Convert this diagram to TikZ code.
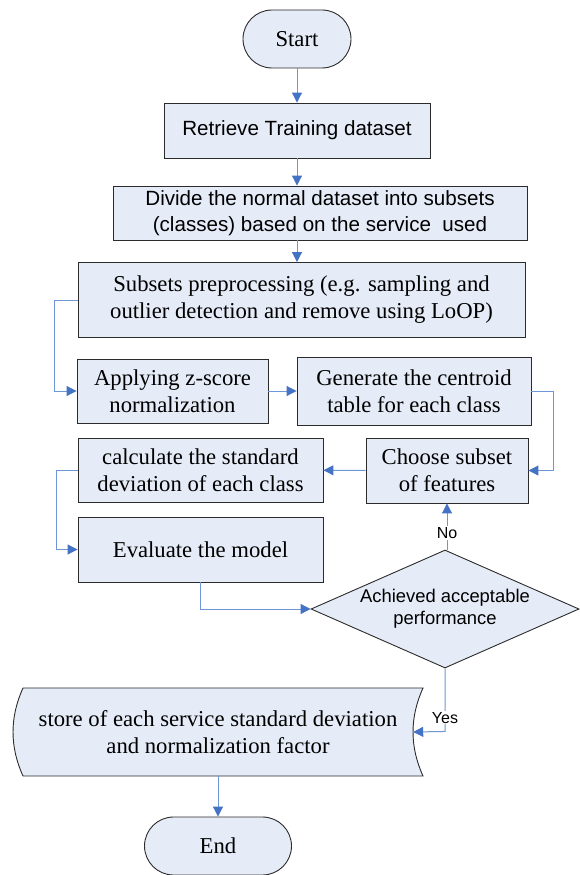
\documentclass[tikz,border=0pt]{standalone}
\usepackage{fontspec}
\setmainfont{Liberation Serif}
\newfontfamily\arialfont{Liberation Sans}
\usetikzlibrary{arrows.meta, shapes.geometric}
\definecolor{boxfill}{HTML}{E6ECF7}
\definecolor{linkblue}{HTML}{6D97D6}
\definecolor{tipblue}{HTML}{4472C4}
\definecolor{edgegray}{HTML}{2B2B2B}

\begin{document}
\begin{tikzpicture}[
    x=1pt, y=-1pt,
    box/.style={draw=edgegray, fill=boxfill, line width=0.9pt, align=center,
        inner sep=2pt, font=\fontsize{22.7}{27}\selectfont},
    sansbox/.style={box, font=\arialfont\fontsize{20.6}{26}\selectfont},
    term/.style={box, rounded corners=29pt, minimum height=58pt},
    flow/.style={draw=linkblue, line width=1pt,
        -{Triangle[length=10pt, width=10pt, color=tipblue]}},
    tag/.style={font=\arialfont\fontsize{16}{19}\selectfont, fill=white, inner sep=1pt}
]
    \useasboundingbox (0, 0) rectangle (579, 875);

    % top of the chart
    \node[term, minimum width=108pt] (start) at (297, 39) {Start};
    \node[sansbox, minimum width=266pt, minimum height=55pt] (retrieve) at (297, 130.5)
        {Retrieve Training dataset};
    \node[sansbox, minimum width=414pt, minimum height=54pt] (divide) at (320, 213)
        {Divide the normal dataset into subsets\\(classes) based on the service\ \ used};
    \node[box, minimum width=447pt, minimum height=75pt] (subsets) at (301.5, 300)
        {Subsets preprocessing (e.g. sampling and\\outlier detection and remove using LoOP)};

    % middle part
    \node[box, minimum width=191pt, minimum height=64pt] (apply) at (172.5, 391)
        {Applying z-score\\normalization};
    \node[box, minimum width=234pt, minimum height=68pt] (centroid) at (414, 391)
        {Generate the centroid\\table for each class};
    \node[box, minimum width=162pt, minimum height=65pt] (choose) at (447, 470.5)
        {Choose subset\\of features};
    \node[box, minimum width=245pt, minimum height=64pt] (stddev) at (200.5, 470)
        {calculate the standard\\deviation of each class};
    \node[box, minimum width=245pt, minimum height=65pt] (evaluate) at (200.5, 549.5)
        {Evaluate the model};
    \node[box, diamond, inner sep=0pt, aspect=2.27, minimum width=268pt, minimum height=118pt,
        font=\arialfont\fontsize{18.4}{22}\selectfont] (check) at (445, 609)
        {Achieved acceptable\\performance};

    % stored data shape and end
    \draw[draw=edgegray, fill=boxfill, line width=0.9pt]
        (23, 688) -- (423, 688)
        .. controls (409.7, 717.3) and (409.7, 746.7) .. (423, 776)
        -- (23, 776)
        .. controls (9.7, 746.7) and (9.7, 717.3) .. (23, 688) -- cycle;
    \node[align=center, inner sep=0pt, minimum width=390pt, minimum height=88pt,
        font=\fontsize{22.7}{27}\selectfont] (store) at (218, 732)
        {store of each service standard deviation\\and normalization factor};
    \node[term, minimum width=147pt] (end) at (218, 846) {End};

    % connectors
    \foreach \a/\b in {start/retrieve, retrieve/divide, divide/subsets} {
        \draw[flow] (\a.south -| start) -- (\b.north -| start);
    }
    \draw[flow] (subsets.west) -- ++(-23, 0) |- (apply.west);
    \draw[flow] (apply) -- (centroid);
    \draw[flow] (centroid.east) -- ++(22, 0) |- (choose.east);
    \draw[flow] (choose) -- (stddev);
    \draw[flow] (stddev.west) -- ++(-21, 0) |- (evaluate.west);
    \draw[flow] (evaluate.south) |- (check.west);
    \draw[flow] (check.north -| choose) -- node[tag, pos=0.36] {No} (choose.south);
    \draw[flow] (check.south) -- node[tag, pos=0.78] {Yes} ++(0, 63) -- (store.east);
    \draw[flow] (store) -- (end);
\end{tikzpicture}
\end{document}
